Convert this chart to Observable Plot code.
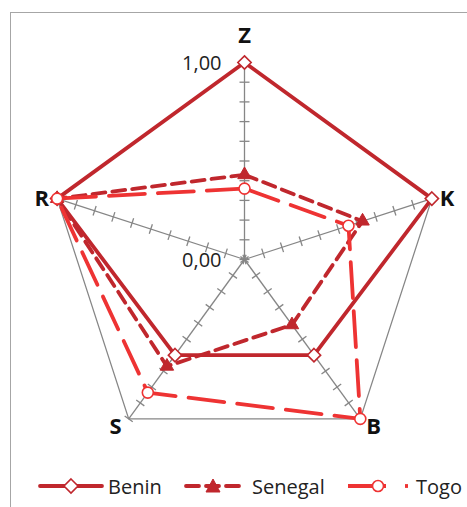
<!DOCTYPE html>
<html><head><meta charset="utf-8">
<script src="https://cdn.jsdelivr.net/npm/d3@7"></script>
<script src="https://cdn.jsdelivr.net/npm/@observablehq/plot@0.6"></script>
<style>
body{margin:0;background:#fff;}
#wrap{position:relative;width:467px;height:507px;overflow:hidden;background:#fff;font-family:"Open Sans",sans-serif;}
#chart{position:absolute;left:0;top:0;}
#border{position:absolute;left:10px;top:12px;width:600px;height:600px;border-left:1.5px solid #a6a6a6;border-top:1.5px solid #a6a6a6;pointer-events:none;}
.lg{position:absolute;top:472px;height:28px;display:flex;align-items:center;font-size:20px;color:#222;}
.lg svg{display:block;}
</style></head>
<body>
<div id="wrap"><div id="chart"></div><div id="border"></div><div id="legend"></div></div>
<script>
const axes = ["Z", "K", "B", "S", "R"];
const benin = [1.00, 1.00, 0.60, 0.60, 1.00];
const senegal = [0.43, 0.63, 0.41, 0.67, 1.00];
const togo = [0.36, 0.555, 1.00, 0.835, 1.00];
const tickLabels = ["0,00", "1,00"];
const tickValues = [0, 1];
const seriesNames = ["Benin", "Senegal", "Togo"];

const darkRed = "#C0272D";
const lightRed = "#EE3333";
const gridColor = "#868686";

const ang = i => i * 2 * Math.PI / axes.length;
const pt = (v, i) => ({x: v * Math.sin(ang(i)), y: v * Math.cos(ang(i))});
const ring = vals => {
  const p = vals.map((v, i) => ({...pt(v, i), axis: axes[i], value: v}));
  return [...p, p[0]];
};

const outer = ring(axes.map(() => 1));
const spokes = axes.map((a, i) => ({axis: a, ...pt(1, i)}));

const W = 467, H = 468, R = 197, CX = 244, CY = 259;
const half = 5 / R;
const ticks = [];
axes.forEach((a, i) => {
  for (let k = 0; k <= 10; k++) {
    const t = k / 10;
    const p = pt(t, i);
    const px = Math.cos(ang(i)), py = -Math.sin(ang(i));
    ticks.push({x1: p.x - px * half, y1: p.y - py * half, x2: p.x + px * half, y2: p.y + py * half});
  }
});

const bRing = ring(benin), sRing = ring(senegal), tRing = ring(togo);

const labelPos = [
  {dx: 0, dy: -27, anchor: "middle"},
  {dx: 8, dy: 0, anchor: "start"},
  {dx: 6, dy: 8, anchor: "start"},
  {dx: -7, dy: 8, anchor: "end"},
  {dx: -8, dy: 0, anchor: "end"}
];

const plot = Plot.plot({
  width: W, height: H,
  marginLeft: 0, marginRight: 0, marginTop: 0, marginBottom: 0,
  style: {background: "transparent", overflow: "visible"},
  x: {domain: [-CX / R, (W - CX) / R], range: [0, W], axis: null},
  y: {domain: [(CY - H) / R, CY / R], range: [H, 0], axis: null},
  marks: [
    Plot.line(outer, {x: "x", y: "y", stroke: gridColor, strokeWidth: 1.3}),
    Plot.link(spokes, {x1: 0, y1: 0, x2: "x", y2: "y", stroke: gridColor, strokeWidth: 1.3}),
    Plot.link(ticks, {x1: "x1", y1: "y1", x2: "x2", y2: "y2", stroke: gridColor, strokeWidth: 1.3}),
    Plot.text(tickValues.map((v, k) => ({v, label: tickLabels[k]})), {
      x: 0, y: "v", text: "label", textAnchor: "end", dx: -23, dy: 1,
      fontSize: 20, fill: "#222", fontFamily: "Open Sans"
    }),
    ...axes.map((a, i) => Plot.text([spokes[i]], {
      x: "x", y: "y", text: "axis", dx: labelPos[i].dx, dy: labelPos[i].dy,
      textAnchor: labelPos[i].anchor, fontSize: 22, fontWeight: "bold", fill: "#111", fontFamily: "Open Sans"
    })),
    Plot.line(bRing, {x: "x", y: "y", stroke: darkRed, strokeWidth: 3.8}),
    Plot.dot(bRing.slice(0, 5), {x: "x", y: "y", symbol: "diamond2", r: 6, fill: "white", stroke: darkRed, strokeWidth: 1.6}),
    Plot.line(sRing, {x: "x", y: "y", stroke: darkRed, strokeWidth: 3.8, strokeDasharray: "13,7"}),
    Plot.dot(sRing.slice(0, 5), {x: "x", y: "y", symbol: "triangle", r: 5, fill: darkRed, stroke: darkRed, strokeWidth: 1}),
    Plot.line(tRing, {x: "x", y: "y", stroke: lightRed, strokeWidth: 3.8, strokeDasharray: "36,13"}),
    Plot.dot(tRing.slice(0, 5), {x: "x", y: "y", symbol: "circle", r: 5.5, fill: "white", stroke: lightRed, strokeWidth: 1.6})
  ]
});
document.getElementById("chart").appendChild(plot);

const legend = document.getElementById("legend");
const items = [
  {name: seriesNames[0], left: 38, svg: `<svg width="70" height="28"><line x1="2" y1="14" x2="64" y2="14" stroke="${darkRed}" stroke-width="3.8" stroke-linecap="round"/><path d="M33 7 L40 14 L33 21 L26 14 Z" fill="white" stroke="${darkRed}" stroke-width="1.6"/></svg>`},
  {name: seriesNames[1], left: 183, svg: `<svg width="69" height="28"><line x1="3" y1="14" x2="58" y2="14" stroke="${darkRed}" stroke-width="3.8" stroke-dasharray="13,7" stroke-linecap="round"/><path d="M30 7 L37 20 L23 20 Z" fill="${darkRed}" stroke="${darkRed}"/></svg>`},
  {name: seriesNames[2], left: 346, svg: `<svg width="70" height="28"><line x1="2" y1="14" x2="40" y2="14" stroke="${lightRed}" stroke-width="3.8"/><line x1="59" y1="14" x2="62" y2="14" stroke="${lightRed}" stroke-width="3.8"/><circle cx="32" cy="14" r="5.5" fill="white" stroke="${lightRed}" stroke-width="1.6"/></svg>`}
];
items.forEach(it => {
  const d = document.createElement("div");
  d.className = "lg";
  d.style.left = it.left + "px";
  d.innerHTML = it.svg + `<span>${it.name}</span>`;
  legend.appendChild(d);
});
</script>
</body></html>
